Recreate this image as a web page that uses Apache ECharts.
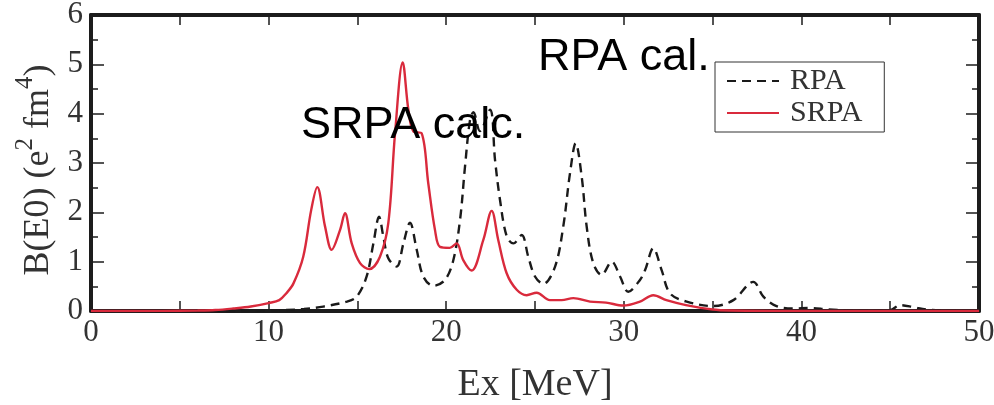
<!DOCTYPE html>
<html>
<head>
<meta charset="utf-8">
<script src="https://cdn.jsdelivr.net/npm/echarts@6/dist/echarts.min.js"></script>
<style>
  html, body { margin: 0; padding: 0; background: #fff; }
  #chart { width: 994px; height: 405px; }
</style>
</head>
<body>
<div id="chart"></div>
<script>
// E0 strength distributions: RPA (dashed) vs second RPA (solid red)
const rpaE = [0, 8, 10, 11, 12, 13.08, 14.4, 14.96, 15.52, 15.9, 16.22, 16.46, 16.74, 17.21, 17.59, 17.96,
  18.34, 18.71, 19.27, 19.93, 20.4, 20.78, 21.06, 21.34, 21.53, 21.9, 22.47, 22.75, 23.03, 23.41, 23.78,
  24.25, 24.62, 25.0, 25.47, 26.13, 26.59, 26.97, 27.29, 27.63, 27.91, 28.28, 28.75, 29.32, 29.79, 30.25,
  30.91, 31.2, 31.66, 32.13, 32.6, 33.54, 35.04, 36.17, 37.29, 37.86, 38.6, 39.5, 40.5, 41.5, 43, 45,
  45.55, 46.3, 47, 48, 50];
const rpaB = [0, 0, 0.01, 0.02, 0.04, 0.09, 0.19, 0.29, 0.70, 1.37, 1.91, 1.51, 1.07, 0.90, 1.37, 1.79,
  1.24, 0.70, 0.51, 0.63, 1.03, 1.85, 2.93, 3.87, 4.03, 3.65, 4.08, 3.06, 2.25, 1.51, 1.37,
  1.54, 1.10, 0.70, 0.55, 0.90, 1.71, 2.79, 3.40, 2.72, 1.71, 0.97, 0.73, 1.00, 0.70, 0.39,
  0.63, 0.83, 1.27, 0.83, 0.36, 0.19, 0.10, 0.22, 0.59, 0.29, 0.10, 0.05, 0.06, 0.03, 0.01, 0.02,
  0.12, 0.08, 0.03, 0.01, 0];

const srpaE = [0, 4, 6, 7, 8, 9, 10, 10.6, 11.0, 11.4, 11.95, 12.4, 12.74, 13.18, 13.55, 14.02, 14.3,
  14.68, 15.15, 15.67, 16.27, 16.74, 17.12, 17.55, 17.87, 18.15, 18.62, 18.99, 19.37, 19.65, 20.2,
  20.59, 20.96, 21.43, 22.09, 22.56, 22.93, 23.41, 23.97, 24.53, 25.09, 25.84, 26.5, 27.16, 28.1, 29.0,
  29.97, 30.91, 31.66, 32.4, 33.5, 35.0, 36.0, 40, 50];
const srpaB = [0, 0.003, 0.01, 0.02, 0.05, 0.09, 0.16, 0.22, 0.36, 0.56, 1.10, 2.05, 2.51, 1.71, 1.24, 1.64, 1.98,
  1.37, 0.97, 0.85, 1.10, 1.78, 3.60, 5.04, 4.08, 3.64, 3.60, 2.59, 1.64, 1.30, 1.28,
  1.37, 1.03, 0.82, 1.44, 2.03, 1.44, 0.76, 0.43, 0.32, 0.37, 0.22, 0.22, 0.26, 0.19, 0.17,
  0.11, 0.19, 0.32, 0.22, 0.12, 0.03, 0.01, 0, 0];

const seriesNames = ['RPA', 'SRPA'];
const xTicks = { min: 0, max: 50, step: 5 };
const yTicks = { min: 0, max: 6, step: 1 };
const annotations = ['SRPA calc.', 'RPA cal.'];

const pairs = (xs, ys) => xs.map((x, i) => [x, ys[i]]);

const serif = '"Liberation Serif", "DejaVu Serif", serif';
const frame = '#1c1c1c';

const xAxisBase = {
  type: 'value',
  min: xTicks.min, max: xTicks.max, interval: xTicks.step,
  axisLine: { show: true, onZero: false, lineStyle: { color: frame, width: 4 } },
  axisTick: { show: true, inside: true, length: 10, lineStyle: { color: frame, width: 1.5 } },
  splitLine: { show: false }
};
const yAxisBase = {
  type: 'value',
  min: yTicks.min, max: yTicks.max, interval: yTicks.step,
  axisLine: { show: true, onZero: false, lineStyle: { color: frame, width: 4 } },
  axisTick: { show: true, inside: true, length: 13, lineStyle: { color: frame, width: 1.5 } },
  minorTick: { show: true, splitNumber: 2, length: 7, lineStyle: { color: frame, width: 1.5 } },
  splitLine: { show: false }
};

const chart = echarts.init(document.getElementById('chart'), null, { renderer: 'canvas' });
chart.setOption({
  backgroundColor: '#fff',
  animation: false,
  grid: { left: 91, right: 15, top: 15, bottom: 94, containLabel: false, outerBoundsMode: 'none' },
  xAxis: [
    Object.assign({}, xAxisBase, {
      position: 'bottom',
      name: 'Ex [MeV]',
      nameLocation: 'middle',
      nameGap: 55,
      nameTextStyle: { fontFamily: serif, fontSize: 38, color: '#333' },
      axisLabel: {
        margin: 6,
        fontFamily: serif, fontSize: 31, color: '#333',
        formatter: v => (v % 10 === 0 ? String(v) : '')
      }
    }),
    Object.assign({}, xAxisBase, { position: 'top', axisLabel: { show: false } })
  ],
  yAxis: [
    Object.assign({}, yAxisBase, {
      position: 'left',
      name: '{n|B(E0) (e}{s|2}{n| fm}{s|4}{n|)}',
      nameLocation: 'middle',
      nameRotate: 90,
      nameGap: 22,
      nameTextStyle: {
        fontFamily: serif, fontSize: 36, color: '#333', padding: [0, 14, 0, 0],
        rich: {
          n: { fontFamily: serif, fontSize: 36, color: '#333', lineHeight: 44, verticalAlign: 'bottom' },
          s: { fontFamily: serif, fontSize: 25, color: '#333', lineHeight: 44, verticalAlign: 'top' }
        }
      },
      axisLabel: { margin: 8, fontFamily: serif, fontSize: 31, color: '#333' }
    }),
    Object.assign({}, yAxisBase, { position: 'right', axisLabel: { show: false } })
  ],
  legend: {
    orient: 'vertical',
    left: 715, top: 62,
    padding: [4, 22, 4, 11],
    itemGap: 2,
    itemWidth: 52, itemHeight: 14,
    borderColor: '#333', borderWidth: 1,
    backgroundColor: '#fff',
    itemStyle: { opacity: 0 },
    textStyle: { fontFamily: serif, fontSize: 30, color: '#333', lineHeight: 30, padding: [0, 0, 0, 6] },
    data: seriesNames
  },
  series: [
    {
      name: seriesNames[0], type: 'line', data: pairs(rpaE, rpaB),
      showSymbol: false, symbol: 'none', smooth: 0.35,
      lineStyle: { color: '#1a1a1a', width: 2.4, type: [9, 6] },
      itemStyle: { color: '#1a1a1a' },
      z: 2
    },
    {
      name: seriesNames[1], type: 'line', data: pairs(srpaE, srpaB),
      showSymbol: false, symbol: 'none', smooth: 0.35,
      lineStyle: { color: '#d92a3c', width: 2.4 },
      itemStyle: { color: '#d92a3c' },
      z: 3
    }
  ],
  graphic: [
    {
      type: 'text', left: 301, top: 103, z: 100,
      style: { text: annotations[0], font: '45px "Liberation Sans", Arial, sans-serif', fill: '#000' }
    },
    {
      type: 'text', left: 538, top: 35, z: 100,
      style: { text: annotations[1], font: '45px "Liberation Sans", Arial, sans-serif', fill: '#000' }
    }
  ]
});
</script>
</body>
</html>
